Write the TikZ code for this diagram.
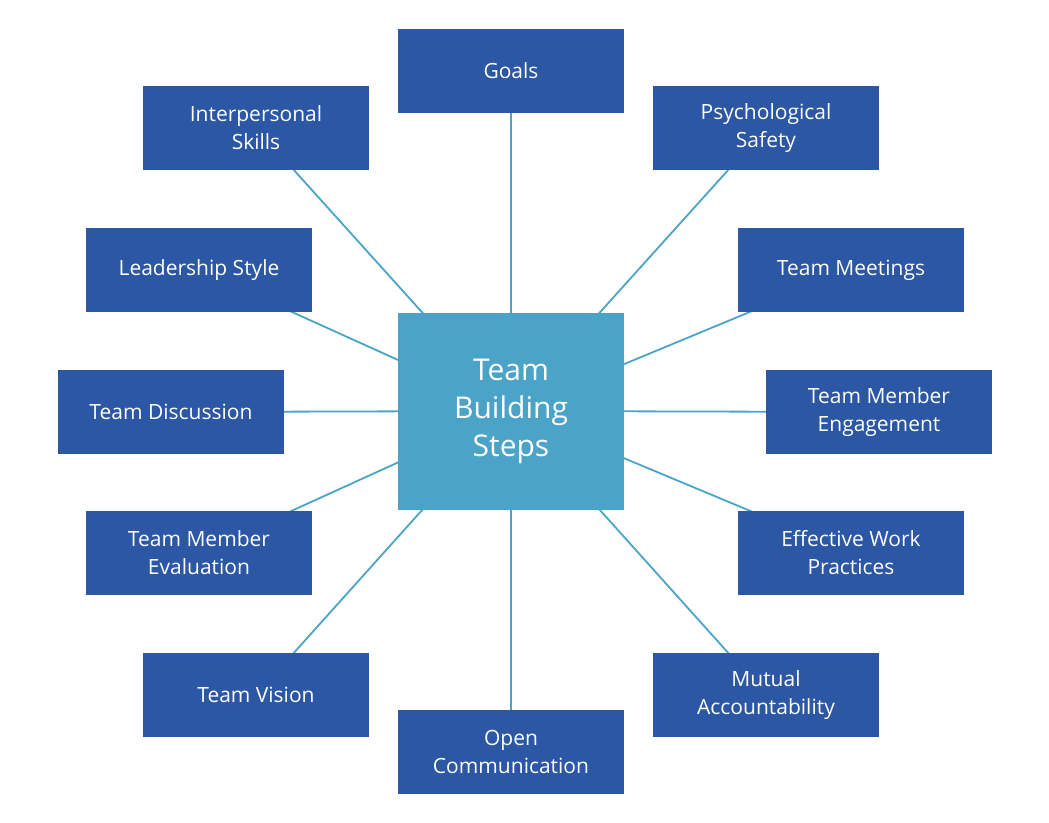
\documentclass[tikz,border=0pt]{standalone}
\usepackage{fontspec}
\setmainfont{Open Sans}
\usetikzlibrary{backgrounds}
\definecolor{stepblue}{HTML}{2B57A5}
\definecolor{hubblue}{HTML}{4BA3C8}
\begin{document}
\begin{tikzpicture}[
    x=1pt, y=-1pt,
    stepbox/.style={rectangle, fill=stepblue, text=white, minimum width=226pt, minimum height=84pt, align=center, inner sep=0pt, font=\fontsize{21}{28}\selectfont},
    hub/.style={rectangle, fill=hubblue, text=white, minimum width=226pt, minimum height=197pt, align=center, inner sep=0pt, font=\fontsize{30}{38}\selectfont},
    link/.style={draw=hubblue, line width=1.8pt}
]
    \useasboundingbox (0,0) rectangle (1049,822);
    % Hub
    \node[hub] (hub) at (511,411) {Team\\Building\\Steps};
    % Steps
    \node[stepbox] (goals) at (511,71) {Goals};
    \node[stepbox] (skills) at (256,128) {Interpersonal\\Skills};
    \node[stepbox] (safety) at (766,128) {Psychological\\Safety};
    \node[stepbox] (leader) at (199,270) {Leadership Style};
    \node[stepbox] (meet) at (851,270) {Team Meetings};
    \node[stepbox] (discuss) at (171,412) {Team Discussion};
    \node[stepbox] (engage) at (879,412) {Team Member\\Engagement};
    \node[stepbox] (eval) at (199,553) {Team Member\\Evaluation};
    \node[stepbox] (work) at (851,553) {Effective Work\\Practices};
    \node[stepbox] (vision) at (256,695) {Team Vision};
    \node[stepbox] (mutual) at (766,695) {Mutual\\Accountability};
    \node[stepbox] (open) at (511,752) {Open\\Communication};
    % Links
    \begin{scope}[on background layer]
    \foreach \s in {goals,skills,safety,leader,meet,discuss,engage,eval,work,vision,mutual,open}
        \draw[link] (hub.center) -- (\s.center);
    \end{scope}
\end{tikzpicture}
\end{document}
